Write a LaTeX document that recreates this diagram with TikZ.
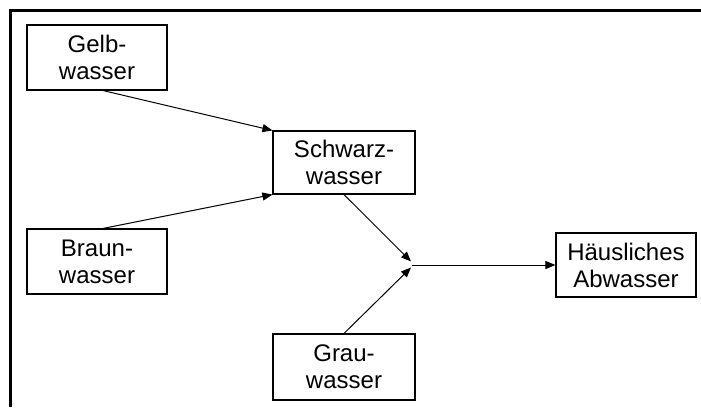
\documentclass[tikz,border=0pt]{standalone}
\usepackage{fontspec}
\setmainfont{Liberation Sans}
\usetikzlibrary{arrows.meta}

\begin{document}
\begin{tikzpicture}[x=1pt,y=-1pt]

      \useasboundingbox (0,0) rectangle (701,407);
      \draw[line width=2.5pt] (10.5,407) -- (10.5,10.5) -- (701,10.5);

      \begin{scope}[every node/.style={draw,line width=1.1pt,align=center,
          inner sep=0pt,font=\fontsize{24}{27}\selectfont}]
        \node[minimum width=140pt,minimum height=65pt] (gelb)    at (97,57.5)  {Gelb-\\wasser};
        \node[minimum width=140pt,minimum height=65pt] (braun)   at (97,261.5) {Braun-\\wasser};
        \node[minimum width=142pt,minimum height=63pt] (schwarz) at (344,162.5) {Schwarz-\\wasser};
        \node[minimum width=142pt,minimum height=66pt] (grau)    at (344,367)  {Grau-\\wasser};
        \node[minimum width=140pt,minimum height=64pt] (haus)    at (626,265)  {Häusliches\\Abwasser};
      \end{scope}

      \coordinate (j1) at (411,261.5);
      \coordinate (j2) at (411,267.5);
      \coordinate (j)  at (412,265);

      \begin{scope}[every path/.style={draw,line width=1pt,-{Triangle[length=10pt,width=8pt]}}]
        \path ([xshift=6pt]gelb.south)  -- (schwarz.north west);
        \path ([xshift=6pt]braun.north) -- (schwarz.south west);
        \path (schwarz.south) -- (j1);
        \path (grau.north) -- (j2);
        \path (j) -- (haus.west);
      \end{scope}

    \end{tikzpicture}
\end{document}
